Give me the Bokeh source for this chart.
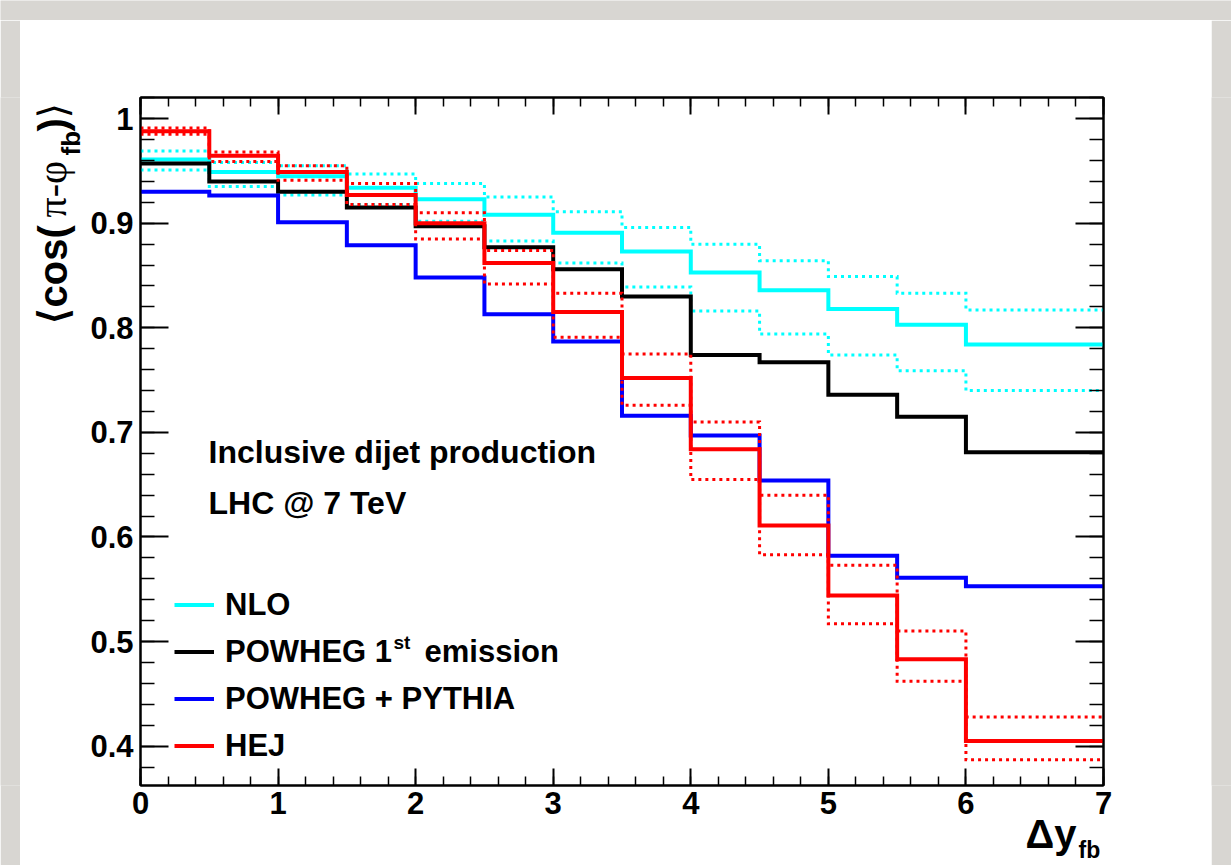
import numpy as np
from bokeh.plotting import figure
from bokeh.layouts import column, row
from bokeh.models import (Range1d, LinearAxis, FixedTicker, CustomJSTickFormatter,
                          Label, Legend, LegendItem)
from bokeh.embed import file_html
from bokeh.resources import INLINE

# ---------------- data ----------------
bin_edges = [0, 0.5, 1, 1.5, 2, 2.5, 3, 3.5, 4, 4.5, 5, 5.5, 6, 7]

nlo      = [0.961, 0.949, 0.945, 0.934, 0.923, 0.908, 0.891, 0.873, 0.853, 0.836, 0.818, 0.803, 0.784]
nlo_hi   = [0.969, 0.958, 0.955, 0.947, 0.938, 0.925, 0.911, 0.896, 0.880, 0.864, 0.849, 0.833, 0.817]
nlo_lo   = [0.951, 0.935, 0.927, 0.918, 0.902, 0.883, 0.862, 0.839, 0.816, 0.794, 0.774, 0.759, 0.740]
powheg   = [0.957, 0.940, 0.930, 0.915, 0.897, 0.877, 0.856, 0.830, 0.774, 0.767, 0.736, 0.715, 0.681]
pythia   = [0.930, 0.9265, 0.901, 0.879, 0.848, 0.813, 0.787, 0.716, 0.697, 0.654, 0.582, 0.561, 0.553]
hej      = [0.988, 0.9645, 0.949, 0.927, 0.900, 0.862, 0.815, 0.752, 0.684, 0.611, 0.544, 0.483, 0.405]
hej_hi   = [0.991, 0.968, 0.955, 0.938, 0.910, 0.874, 0.833, 0.775, 0.710, 0.640, 0.573, 0.510, 0.428]
hej_lo   = [0.985, 0.959, 0.941, 0.918, 0.885, 0.842, 0.791, 0.726, 0.655, 0.583, 0.517, 0.462, 0.387]

series_names = ["NLO", "POWHEG 1", "POWHEG + PYTHIA", "HEJ"]
x_tick_values = [0, 1, 2, 3, 4, 5, 6, 7]
y_tick_values = [0.4, 0.5, 0.6, 0.7, 0.8, 0.9, 1.0]

# ---------------- layout constants (page pixels) ----------------
PAGE_W, PAGE_H = 1231, 865
PAD = 20                                  # grey margin left / top / right
FRAME_L, FRAME_R, FRAME_T, FRAME_B = 140, 1103, 97, 785
X_MIN, X_MAX = 0.0, 7.0
Y_MIN, Y_MAX = 0.3624, 1.0202
GRAY = "#d8d6d2"
FONT = "Liberation Sans"
CYAN, BLACK, BLUE, RED = "#00ffff", "#000000", "#0000ff", "#ff0000"


def dx(px):
    return X_MIN + (px - FRAME_L) / (FRAME_R - FRAME_L) * (X_MAX - X_MIN)


def dy(py):
    return Y_MAX - (py - FRAME_T) / (FRAME_B - FRAME_T) * (Y_MAX - Y_MIN)


def gray_fig(w, h):
    f = figure(width=w, height=h, output_backend="svg", toolbar_location=None,
               x_axis_type=None, y_axis_type=None,
               x_range=Range1d(0, 1), y_range=Range1d(0, 1))
    f.min_border = 0
    f.outline_line_color = None
    f.background_fill_color = GRAY
    f.border_fill_color = GRAY
    return f


# ---------------- main figure ----------------
main_w = PAGE_W - 2 * PAD
main_h = PAGE_H - PAD
p = figure(width=main_w, height=main_h, output_backend="svg", toolbar_location=None,
           x_range=Range1d(X_MIN, X_MAX), y_range=Range1d(Y_MIN, Y_MAX),
           x_axis_type=None, y_axis_type=None)
p.min_border_left = FRAME_L - PAD
p.min_border_right = (PAGE_W - PAD) - FRAME_R
p.min_border_top = FRAME_T - PAD
p.min_border_bottom = PAGE_H - FRAME_B
p.background_fill_color = "white"
p.border_fill_color = "white"
p.outline_line_color = "black"
p.outline_line_width = 2

# axes (ROOT style, ticks inside on all four sides)
x_minor = [round(v, 2) for v in np.arange(0, 7.0001, 0.2)]
y_minor = [round(v, 2) for v in np.arange(0.38, 1.0201, 0.02)]
xt = FixedTicker(ticks=x_tick_values, minor_ticks=x_minor)
yt = FixedTicker(ticks=y_tick_values, minor_ticks=y_minor)
num_fmt = CustomJSTickFormatter(code="return String(Math.round(tick*10)/10);")
blank_fmt = CustomJSTickFormatter(code="return '';")


def style_axis(ax, major_in, minor_in, labels):
    ax.major_tick_in = major_in
    ax.major_tick_out = 0
    ax.minor_tick_in = minor_in
    ax.minor_tick_out = 0
    ax.axis_line_width = 2
    ax.major_tick_line_width = 2
    ax.minor_tick_line_width = 1.5
    ax.major_label_text_font = FONT
    ax.major_label_text_font_style = "bold"
    ax.major_label_text_color = "black"
    if labels:
        ax.formatter = num_fmt
        ax.major_label_text_font_size = "31px"
    else:
        ax.formatter = blank_fmt
        ax.major_label_text_font_size = "0px"
        ax.major_label_standoff = 0
    return ax


xb = style_axis(LinearAxis(ticker=xt), 17, 9, True)
xb.major_label_standoff = 6
xtop = style_axis(LinearAxis(ticker=xt), 17, 9, False)
yl = style_axis(LinearAxis(ticker=yt), 28, 14, True)
yl.major_label_standoff = 7
yr = style_axis(LinearAxis(ticker=yt), 28, 14, False)
p.add_layout(xb, "below")
p.add_layout(xtop, "above")
p.add_layout(yl, "left")
p.add_layout(yr, "right")


def ext(vals):
    return list(vals) + [vals[-1]]


def band(vals, color):
    return p.step(x=bin_edges, y=ext(vals), mode="after", line_color=color,
                  line_width=3, line_dash="3 4", line_join="miter")


def solid(vals, color):
    return p.step(x=bin_edges, y=ext(vals), mode="after", line_color=color,
                  line_width=4, line_join="miter")


band(nlo_hi, CYAN)
band(nlo_lo, CYAN)
r_nlo = solid(nlo, CYAN)
r_pow = solid(powheg, BLACK)
r_pyt = solid(pythia, BLUE)
band(hej_hi, RED)
band(hej_lo, RED)
r_hej = solid(hej, RED)

legend = Legend(items=[LegendItem(label=series_names[0], renderers=[r_nlo]),
                       LegendItem(label=series_names[1], renderers=[r_pow]),
                       LegendItem(label=series_names[2], renderers=[r_pyt]),
                       LegendItem(label=series_names[3], renderers=[r_hej])],
                location=(174 - FRAME_L, 16))
legend.border_line_alpha = 0
legend.background_fill_alpha = 0
legend.label_text_font = FONT
legend.label_text_font_style = "bold"
legend.label_text_font_size = "31px"
legend.label_text_color = "black"
legend.glyph_width = 40
legend.glyph_height = 47
legend.label_height = 47
legend.spacing = 0
legend.padding = 0
legend.margin = 0
legend.label_standoff = 11
p.add_layout(legend, "center")


def add_label(place, px, py, text, size, style="bold", font=FONT, align="left",
              angle=0.0):
    p.add_layout(Label(x=dx(px), y=dy(py), text=text, text_font=font,
                       text_font_size=f"{size}px", text_font_style=style,
                       text_align=align, text_baseline="middle", angle=angle,
                       text_color="black"), place)


# texts inside the frame (y = middle of the capitals)
add_label("center", 393, 642, "st", 19)
add_label("center", 424, 651, "emission", 31)
add_label("center", 208, 451, "Inclusive dijet production", 32)
add_label("center", 208, 502, "LHC @ 7 TeV", 32)

# axis titles: placed in side panels (positions are in data units, so the
# panel they live in only matters for the space it reserves)
A = np.pi / 2
add_label("left", 52, 323, "\u27e8cos(", 40, angle=A)
add_label("right", 52, 217, "\u03c0-\u03c6", 40, style="normal",
          font="Liberation Serif", angle=A)
add_label("above", 70, 155, "fb", 26, angle=A)
add_label("above", 52, 131, ")", 40, angle=A)
add_label("above", 52, 118, "\u27e9", 40, style="normal", font="DejaVu Sans", angle=A)
add_label("right", 1076, 833, "\u0394y", 40, align="right")
add_label("below", 1078, 849, "fb", 23)

# ---------------- grey margins ----------------
layout = column(gray_fig(PAGE_W, PAD),
                row(gray_fig(PAD, main_h), p, gray_fig(PAD, main_h)))

open("out.html", "w").write(file_html(layout, INLINE))
